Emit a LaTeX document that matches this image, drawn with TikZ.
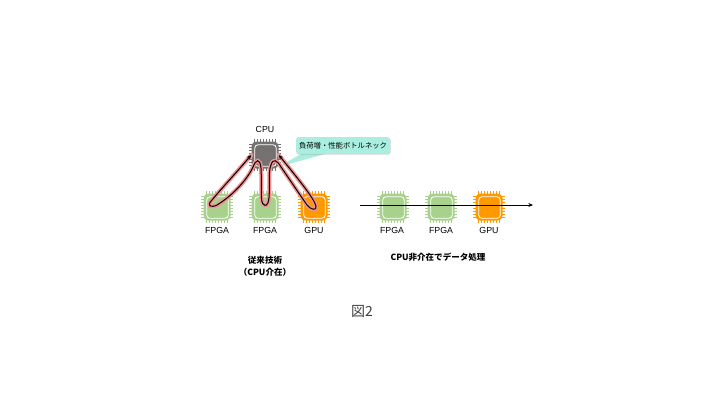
\documentclass[tikz,border=0pt]{standalone}
\usepackage{fontspec}
\setmainfont{Liberation Sans}
\newfontfamily\cjkfont{Noto Sans CJK JP}
\usetikzlibrary{arrows.meta,shadows}
\definecolor{fpgac}{HTML}{A9D18E}
\definecolor{gpuc}{HTML}{FF9900}
\definecolor{cpuc}{HTML}{767171}
\definecolor{calloutc}{HTML}{A9EEDF}
\definecolor{loopc}{HTML}{F29090}
\newcommand{\chipat}[4]{% name, x, y, colour
  \foreach \d in {-10.5,-7.5,-4.5,-1.5,1.5,4.5,7.5,10.5}{
    \draw[#4,line width=0.5] (#2+\d,#3-16) -- (#2+\d,#3+16);
    \draw[#4,line width=0.5] (#2-16,#3+\d) -- (#2+16,#3+\d);
  }
  \node[chipbody,fill=#4] (#1) at (#2,#3) {};
  \node[chipinner] (#1in) at (#2+0.5,#3+0.5) {};
}
\newcommand{\looppath}{
  (cp.west) .. controls (236,173) and (221,189) .. (tipa)
  .. controls (206,206) and (211,208) .. (217,205)
  .. controls (232,196) and (247,180) .. (253,167)
  .. controls (256,159) and (260,158) .. (261,168)
  .. controls (262,185) and (260,200) .. (tipb)
  .. controls (266,207) and (268,205) .. (269,198)
  .. controls (270,185) and (268,172) .. (271,165)
  .. controls (273,158) and (277,160) .. (281,167)
  .. controls (290,180) and (300,195) .. (307,205)
  .. controls (311,210) and (317,211) .. (tipc)
  .. controls (314,198) and (295,175) .. (cp.east)
}
\tikzset{
  x=0.75pt,y=-0.75pt,
  chipbody/.style={minimum size=20.25pt,inner sep=0pt,rounded corners=3.5pt,draw=none},
  chipinner/.style={minimum size=16pt,inner sep=0pt,rounded corners=2.2pt,draw=white,line width=0.6pt},
  chiplabel/.style={font=\fontsize{6.6pt}{8pt}\selectfont,text=black,inner sep=0pt},
  boldlabel/.style={font=\cjkfont\bfseries\fontsize{6.4pt}{8.8pt}\selectfont,text=black,inner sep=0pt,align=center},
  halo/.style={draw=loopc,line width=3pt,line cap=round},
  flow/.style={draw=black,line width=0.75pt,-{Stealth[length=3.5pt,width=3pt]}},
  flowboth/.style={flow,{Stealth[length=3.5pt,width=3pt]}-{Stealth[length=3.5pt,width=3pt]}},
}
\begin{document}
\begin{tikzpicture}
\useasboundingbox (0,0) rectangle (720,405);
\chipat{fa}{217}{207}{fpgac}
\chipat{fb}{265}{207}{fpgac}
\chipat{gp}{314}{207}{gpuc}
\chipat{cp}{265}{155}{cpuc}
\chipat{fc}{393}{207}{fpgac}
\chipat{fd}{441}{207}{fpgac}
\chipat{ge}{489}{207}{gpuc}
\node[chiplabel] (lcp) at (265,129.5) {CPU};
\node[chiplabel] (lfa) at (217,230.5) {FPGA};
\node[chiplabel] (lfb) at (265,230.5) {FPGA};
\node[chiplabel] (lgp) at (314,230.5) {GPU};
\node[chiplabel] (lfc) at (392,230.5) {FPGA};
\node[chiplabel] (lfd) at (441,230.5) {FPGA};
\node[chiplabel] (lge) at (489,230.5) {GPU};
\coordinate (tipa) at (212,200);
\coordinate (tipb) at (263,204);
\coordinate (tipc) at (316,206);
% callout pointer
\fill[calloutc] (301,154) -- (325,154) -- (278,167) -- cycle;
% loop path
\draw[halo] \looppath;
\draw[flowboth] \looppath;
% callout
\node[fill=calloutc,rounded corners=2pt,minimum width=70.5pt,minimum height=12.5pt,inner sep=0pt,
  drop shadow={shadow xshift=0.5pt,shadow yshift=-0.6pt,opacity=0.35},
  font=\cjkfont\fontsize{5.5pt}{7pt}\selectfont] (note) at (343,145.5) {負荷増・性能ボトルネック};
% straight flow
\coordinate (s) at (360,205);
\coordinate (e) at (533,205);
\draw[flow] (s) -- (e);
% captions
\node[boldlabel] (cap1) at (265,266.5) {従来技術\\（CPU介在）};
\node[boldlabel] (cap2) at (438,257) {CPU非介在でデータ処理};
\node[font=\cjkfont\fontsize{10.5pt}{12pt}\selectfont,text=black!75,inner sep=0pt] (fig) at (362,311) {図2};
\end{tikzpicture}
\end{document}
